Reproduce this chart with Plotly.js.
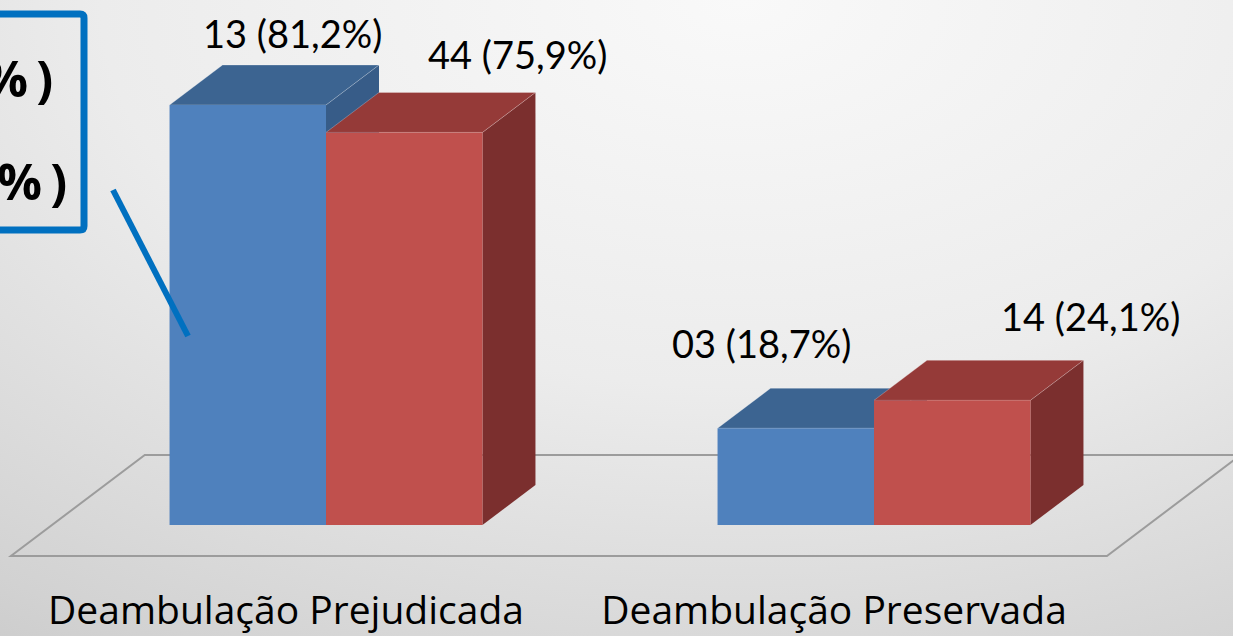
<!DOCTYPE html>
<html><head><meta charset="utf-8">
<script src="https://cdn.plot.ly/plotly-3.0.1.min.js"></script>
<style>
html,body{margin:0;padding:0;width:1233px;height:636px;overflow:hidden;
background: radial-gradient(ellipse 115% 135% at 60% 0%, #f9f9f9 0%, #ececec 45%, #d2d2d2 85%, #c6c6c6 100%);}
#chart{width:1233px;height:636px;}
</style></head><body><div id="chart"></div>
<script>
// ---- data ----
const categories = ['Deambulação Prejudicada', 'Deambulação Preservada'];
const countsA = [13, 3];
const pctA = [81.2, 18.7];
const countsB = [44, 14];
const pctB = [75.9, 24.1];
const legendTails = ['%\u2009)', '%\u2009)'];

function fmt(c, p) { return String(c).padStart(2, '0') + ' (' + p.toFixed(1).replace('.', ',') + '%)'; }
const labelsA = countsA.map((c, i) => fmt(c, pctA[i]));
const labelsB = countsB.map((c, i) => fmt(c, pctB[i]));

// ---- layout geometry ----
const W = 1233, H = 636, MB = 56, PH = H - MB;
const xr = [-0.5949, -0.5949 + W / 548];
const yr = [-(PH - 525) / 5.1724, 525 / 5.1724];
const pxX = W / (xr[1] - xr[0]), pxY = PH / (yr[1] - yr[0]);
const DX = 53 / pxX, DY = 40 / pxY;          // depth of the 3D boxes
const bargap = 0.429, bw = (1 - bargap) / 2;
const xs = categories.map((c, i) => i);

const colA = {front: '#4F81BD', top: '#3C6491', side: '#375C88'};
const colB = {front: '#C0504D', top: '#953A38', side: '#7B2F2E'};

const shapes = [];
// floor
const fl = -0.5, frr = 1.5, dF = -0.775, dB = 1.75;
shapes.push({type: 'path', xref: 'x', yref: 'y', layer: 'below',
  path: `M${fl + dF * DX},${dF * DY} L${frr + dF * DX},${dF * DY} L${frr + dB * DX},${dB * DY} L${fl + dB * DX},${dB * DY} Z`,
  line: {color: '#9c9c9c', width: 2}, fillcolor: 'rgba(0,0,0,0)'});

function box(x0, x1, v, col) {
  shapes.push({type: 'path', xref: 'x', yref: 'y', layer: 'below',
    path: `M${x1},0 L${x1 + DX},${DY} L${x1 + DX},${v + DY} L${x1},${v} Z`,
    fillcolor: col.side, line: {width: 0}});
  shapes.push({type: 'path', xref: 'x', yref: 'y', layer: 'below',
    path: `M${x0},${v} L${x0 + DX},${v + DY} L${x1 + DX},${v + DY} L${x1},${v} Z`,
    fillcolor: col.top, line: {color: 'rgba(255,255,255,0.25)', width: 1}});
}
xs.forEach((x, i) => {
  box(x - bw, x, pctA[i], colA);
  box(x, x + bw, pctB[i], colB);
});

// legend box fragment and connector (pixel positions -> paper)
const px = v => v / W, py = v => 1 - v / PH;
shapes.push({type: 'path', xref: 'paper', yref: 'paper', layer: 'above',
  path: `M${px(-30)},${py(14)} L${px(80)},${py(14)} Q${px(84)},${py(14)} ${px(84)},${py(18)} L${px(84)},${py(226)} Q${px(84)},${py(230)} ${px(80)},${py(230)} L${px(-30)},${py(230)}`,
  line: {color: '#0070C0', width: 7}, fillcolor: 'rgba(0,0,0,0)'});
shapes.push({type: 'line', xref: 'paper', yref: 'paper', layer: 'above',
  x0: px(113), y0: py(190), x1: px(188), y1: py(336),
  line: {color: '#0070C0', width: 6}});

// data labels
const labOff = [[[45, 72], [113, 78]], [[-34, 85], [138, 84]]];
const annotations = [];
xs.forEach((x, i) => {
  annotations.push({x: x - bw / 2, y: pctA[i], xref: 'x', yref: 'y', text: labelsA[i], showarrow: false,
    xshift: labOff[i][0][0], yshift: labOff[i][0][1], font: {size: 38, color: '#000'}});
  annotations.push({x: x + bw / 2, y: pctB[i], xref: 'x', yref: 'y', text: labelsB[i], showarrow: false,
    xshift: labOff[i][1][0], yshift: labOff[i][1][1], font: {size: 38, color: '#000'}});
});
const legPos = [[55, 78], [69, 181]];
legendTails.forEach((t, i) => {
  annotations.push({xref: 'paper', yref: 'paper', x: px(legPos[i][0]), y: py(legPos[i][1]),
    xanchor: 'right', yanchor: 'middle', text: '<b>' + t + '</b>', showarrow: false,
    font: {family: 'Open Sans, sans-serif', size: 50, color: '#000'}});
});

const traces = [
  {type: 'bar', x: xs, y: pctA, marker: {color: colA.front}, hoverinfo: 'none', showlegend: false},
  {type: 'bar', x: xs, y: pctB, marker: {color: colB.front}, hoverinfo: 'none', showlegend: false}
];

const layout = {
  width: W, height: H,
  margin: {l: 0, r: 0, t: 0, b: MB, pad: 0},
  paper_bgcolor: 'rgba(0,0,0,0)', plot_bgcolor: 'rgba(0,0,0,0)',
  font: {family: 'Lato, sans-serif', color: '#000'},
  barmode: 'group', bargap: bargap, bargroupgap: 0,
  xaxis: {range: xr, tickvals: xs, ticktext: categories, showgrid: false, zeroline: false,
    showline: false, ticks: '', ticklabelshift: -40, ticklabelstandoff: 4,
    tickfont: {family: 'Open Sans, sans-serif', size: 39, color: '#000'}, fixedrange: true},
  yaxis: {range: yr, visible: false, showgrid: false, zeroline: false, fixedrange: true},
  shapes: shapes, annotations: annotations, showlegend: false
};
Plotly.newPlot('chart', traces, layout, {staticPlot: true});
</script></body></html>
